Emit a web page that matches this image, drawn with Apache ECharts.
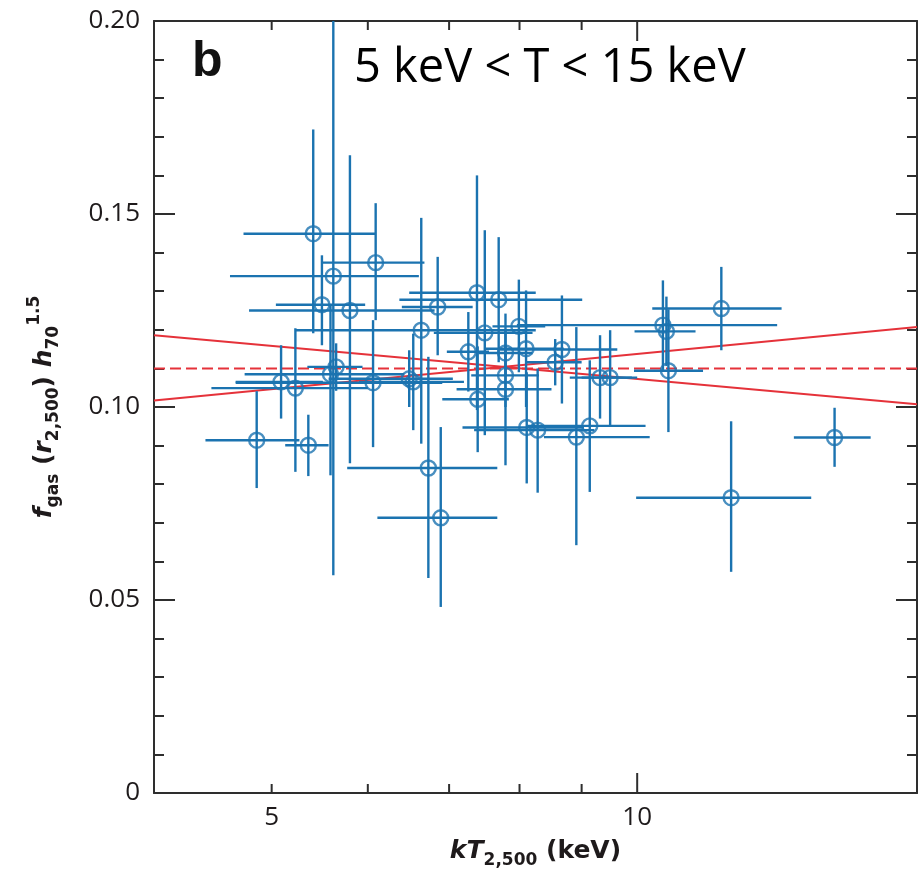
<!DOCTYPE html>
<html>
<head>
<meta charset="utf-8">
<script src="https://cdn.jsdelivr.net/npm/echarts@6/dist/echarts.min.js"></script>
<style>
html,body{margin:0;padding:0;background:#fff;}
#chart{width:923px;height:881px;}
</style>
</head>
<body>
<div id="chart"></div>
<script>
// ---- data ----
const kT      = [4.86,5.09,5.23,5.36,5.41,5.50,5.62,5.80,5.59,5.65,6.06,6.09,6.49,6.54,6.64,6.85,6.73,6.89,7.26,7.38,7.39,7.49,7.69,7.79,7.79,7.79,7.99,8.10,8.11,8.28,8.67,8.56,8.91,9.14,9.32,9.50,10.50,10.57,10.61,11.73,11.95,14.54];
const kTLow   = [4.41,4.67,4.46,5.13,4.74,5.04,4.62,4.79,4.75,5.35,4.67,5.50,5.57,5.90,5.23,6.40,5.77,6.11,6.97,6.49,6.91,6.80,6.37,7.40,7.30,7.10,7.60,7.50,7.18,7.34,7.71,8.10,8.38,8.12,8.80,9.00,7.96,9.95,9.94,10.29,9.98,13.46];
const kTHigh  = [5.27,5.51,6.00,5.57,6.09,5.97,6.61,6.81,6.43,5.94,6.91,6.68,7.05,7.20,8.25,7.32,7.67,7.67,7.55,8.25,7.84,8.20,9.01,8.20,8.30,8.50,8.40,8.70,9.04,9.22,9.63,9.00,10.24,10.16,9.90,10.00,13.04,11.17,11.33,13.15,13.91,15.57];
const fgas    = [0.0914,0.1065,0.1049,0.0901,0.1449,0.1265,0.1339,0.1250,0.1085,0.1104,0.1063,0.1374,0.1073,0.1065,0.1199,0.1259,0.0842,0.0713,0.1143,0.1296,0.1020,0.1192,0.1278,0.1140,0.1082,0.1046,0.1209,0.1151,0.0947,0.0940,0.1149,0.1116,0.0922,0.0951,0.1076,0.1076,0.1212,0.1196,0.1094,0.1255,0.0765,0.0921];
const fgasLow = [0.0790,0.0970,0.0832,0.0821,0.1191,0.1160,0.0564,0.0854,0.0823,0.1042,0.0896,0.1225,0.1000,0.0940,0.0905,0.1134,0.0557,0.0482,0.1040,0.0992,0.0883,0.0927,0.1116,0.1080,0.1000,0.0849,0.1090,0.1000,0.0802,0.0778,0.1009,0.1056,0.0642,0.0780,0.0970,0.0953,0.1096,0.1106,0.0935,0.1147,0.0573,0.0845];
const fgasHigh= [0.1041,0.1160,0.1204,0.0980,0.1719,0.1393,0.2110,0.1652,0.1265,0.1165,0.1225,0.1528,0.1147,0.1190,0.1490,0.1389,0.1130,0.0948,0.1246,0.1600,0.1157,0.1458,0.1440,0.1200,0.1160,0.1242,0.1330,0.1302,0.1090,0.1100,0.1289,0.1176,0.1207,0.1121,0.1186,0.1199,0.1328,0.1286,0.1253,0.1363,0.0963,0.0998];

const fitX      = [4, 17];
const fitUpper  = [0.1186, 0.1007];
const fitLower  = [0.1017, 0.1207];
const fitMean   = [0.1100, 0.1100];

const xTickValues  = [5, 6, 7, 8, 9, 10];
const xLongTicks   = [10];
const xTickLabels  = [5, 10];
const yTickLabels  = ['0', '0.05', '0.10', '0.15', '0.20'];

const panelLetter = 'b';
const rangeText   = '5 keV < T < 15 keV';

// ---- styles ----
const FRAME = '#2e2e2e';
const BLUE  = '#1b73b0';
const RED   = '#e5323a';
const TXT   = '#1e1a1b';

const points = kT.map((x, i) => [x, fgas[i], kTLow[i], kTHigh[i], fgasLow[i], fgasHigh[i]]);

const chart = echarts.init(document.getElementById('chart'), null, {renderer: 'canvas'});

const titleRich = {
  bi:  {fontFamily: 'DejaVu Sans', fontWeight: 'bold', fontStyle: 'italic', fontSize: 25, lineHeight: 36, verticalAlign: 'middle', color: TXT},
  b:   {fontFamily: 'DejaVu Sans', fontWeight: 'bold', fontSize: 25, lineHeight: 36, verticalAlign: 'middle', color: TXT},
  sub: {fontFamily: 'DejaVu Sans', fontWeight: 'bold', fontSize: 17, lineHeight: 19, verticalAlign: 'bottom', color: TXT},
  sup: {fontFamily: 'DejaVu Sans', fontWeight: 'bold', fontSize: 17, lineHeight: 19, verticalAlign: 'top', color: TXT}
};

const option = {
  animation: false,
  backgroundColor: '#ffffff',
  grid: {left: 154, top: 21, width: 763, height: 772, containLabel: false},
  xAxis: [
    {
      type: 'log', logBase: 10, min: fitX[0], max: fitX[1], position: 'bottom',
      axisLine: {show: true, onZero: false, lineStyle: {color: FRAME, width: 2}},
      axisTick: {show: false}, minorTick: {show: false}, axisLabel: {show: false},
      splitLine: {show: false}, minorSplitLine: {show: false},
      name: '{bi|kT}{sub|2,500}{b| (keV)}',
      nameLocation: 'middle', nameGap: 40,
      nameTextStyle: {rich: titleRich}
    },
    {
      type: 'log', logBase: 10, min: fitX[0], max: fitX[1], position: 'top',
      axisLine: {show: true, onZero: false, lineStyle: {color: FRAME, width: 2}},
      axisTick: {show: false}, minorTick: {show: false}, axisLabel: {show: false},
      splitLine: {show: false}, minorSplitLine: {show: false}
    }
  ],
  yAxis: [
    {
      type: 'value', min: 0, max: 0.2, interval: 0.05, position: 'left',
      axisLine: {show: true, onZero: false, lineStyle: {color: FRAME, width: 2}},
      axisTick: {show: true, inside: true, length: 21, lineStyle: {color: FRAME, width: 2}},
      minorTick: {show: true, splitNumber: 5, length: 10, lineStyle: {color: FRAME, width: 2}},
      splitLine: {show: false}, minorSplitLine: {show: false},
      axisLabel: {
        show: true, margin: 14, color: TXT, fontFamily: 'Open Sans', fontSize: 26,
        formatter: (v) => yTickLabels[Math.round(v / 0.05)]
      },
      name: '{bi|f}{sub|gas}{b| (}{bi|r}{sub|2,500}{b|) }{bi|h}{sub|70}{sup|1.5}',
      nameLocation: 'middle', nameRotate: 90, nameGap: 92,
      nameTextStyle: {rich: titleRich}
    },
    {
      type: 'value', min: 0, max: 0.2, interval: 0.05, position: 'right',
      axisLine: {show: true, onZero: false, lineStyle: {color: FRAME, width: 2}},
      axisTick: {show: true, inside: true, length: 21, lineStyle: {color: FRAME, width: 2}},
      minorTick: {show: true, splitNumber: 5, length: 10, lineStyle: {color: FRAME, width: 2}},
      splitLine: {show: false}, minorSplitLine: {show: false},
      axisLabel: {show: false}
    }
  ],
  series: [
    { // red fit lines
      type: 'line', xAxisIndex: 0, yAxisIndex: 0, symbol: 'none', silent: true, z: 1,
      data: fitX.map((x, i) => [x, fitUpper[i]]),
      lineStyle: {color: RED, width: 2}
    },
    {
      type: 'line', xAxisIndex: 0, yAxisIndex: 0, symbol: 'none', silent: true, z: 1,
      data: fitX.map((x, i) => [x, fitLower[i]]),
      lineStyle: {color: RED, width: 2}
    },
    {
      type: 'line', xAxisIndex: 0, yAxisIndex: 0, symbol: 'none', silent: true, z: 1,
      data: fitX.map((x, i) => [x, fitMean[i]]),
      lineStyle: {color: RED, width: 2, type: [11, 5]}
    },
    { // error bars
      type: 'custom', xAxisIndex: 0, yAxisIndex: 0, clip: true, silent: true, z: 3,
      data: points,
      encode: {x: [0, 2, 3], y: [1, 4, 5]},
      renderItem: function (params, api) {
        const c = api.coord([api.value(0), api.value(1)]);
        const l = api.coord([api.value(2), api.value(1)]);
        const r = api.coord([api.value(3), api.value(1)]);
        const b = api.coord([api.value(0), api.value(4)]);
        const t = api.coord([api.value(0), api.value(5)]);
        const st = {stroke: BLUE, lineWidth: 2.4, fill: null};
        return {
          type: 'group',
          children: [
            {type: 'line', shape: {x1: l[0], y1: c[1], x2: r[0], y2: c[1]}, style: st},
            {type: 'line', shape: {x1: c[0], y1: b[1], x2: c[0], y2: t[1]}, style: st}
          ]
        };
      }
    },
    { // hollow markers
      type: 'scatter', xAxisIndex: 0, yAxisIndex: 0, silent: true, z: 4,
      data: points.map(p => [p[0], p[1]]),
      symbol: 'circle', symbolSize: 15,
      itemStyle: {color: 'rgba(0,0,0,0)', borderColor: BLUE, borderWidth: 2.4}
    },
    { // x-axis ticks (bottom and top) and labels
      type: 'custom', xAxisIndex: 0, yAxisIndex: 0, silent: true, z: 6,
      data: xTickValues.map(v => [v, 0]),
      renderItem: function (params, api) {
        const v = api.value(0);
        const x = api.coord([v, 0])[0];
        const cs = params.coordSys;
        const len = xLongTicks.indexOf(v) >= 0 ? 20 : 9;
        const st = {stroke: FRAME, lineWidth: 2};
        const children = [
          {type: 'line', shape: {x1: x, y1: cs.y + cs.height, x2: x, y2: cs.y + cs.height - len}, style: st},
          {type: 'line', shape: {x1: x, y1: cs.y, x2: x, y2: cs.y + len}, style: st}
        ];
        if (xTickLabels.indexOf(v) >= 0) {
          children.push({
            type: 'text',
            style: {
              text: String(v), x: x, y: cs.y + cs.height + 12,
              align: 'center', verticalAlign: 'top', textAlign: 'center', textVerticalAlign: 'top',
              font: '26px "Open Sans"', fill: TXT
            }
          });
        }
        return {type: 'group', children: children};
      }
    }
  ],
  graphic: [
    {
      type: 'text', left: 192, top: 37, z: 10,
      style: {text: panelLetter, font: 'bold 50px "Liberation Sans"', fill: '#111'}
    },
    {
      type: 'text', left: 354, top: 45, z: 10,
      style: {text: rangeText, font: '47px "Open Sans"', fill: '#000'}
    }
  ]
};

chart.setOption(option);
</script>
</body>
</html>
